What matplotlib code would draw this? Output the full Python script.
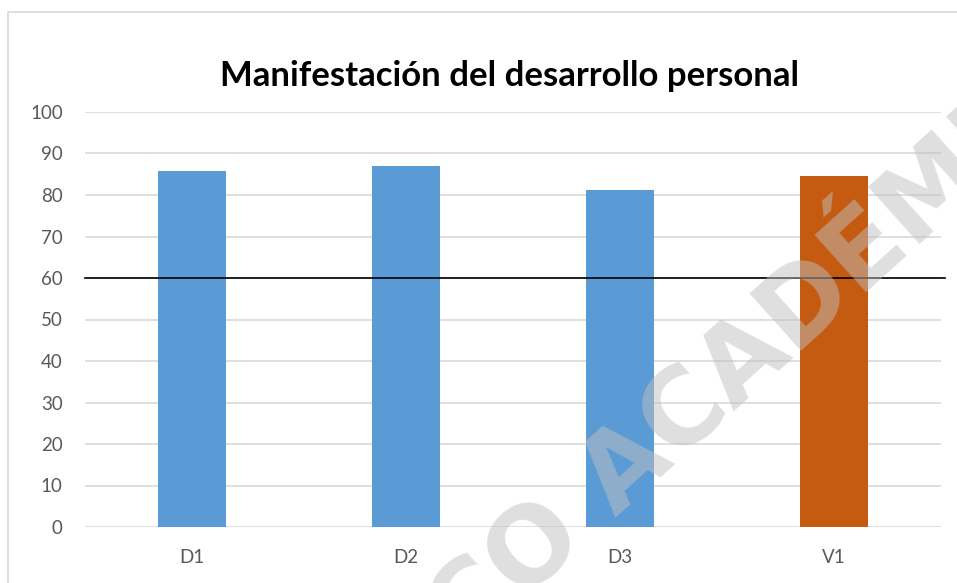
import matplotlib.pyplot as plt
from matplotlib.patches import Rectangle

# data
categories = ["D1", "D2", "D3", "V1"]
values = [85.9, 87.0, 81.1, 84.6]
bar_colors = ["#5B9BD5", "#5B9BD5", "#5B9BD5", "#C55A11"]
yticks = [0, 10, 20, 30, 40, 50, 60, 70, 80, 90, 100]
threshold = 60
title = "Manifestación del desarrollo personal"

W, H = 957, 583
fig = plt.figure(figsize=(W / 100, H / 100), dpi=100)

# chart frame (Excel style border)
fig.patches.append(Rectangle((8 / W, -0.1), 1.2, (583 - 12) / H + 0.1,
                             transform=fig.transFigure, fill=False,
                             edgecolor="#D9D9D9", linewidth=1.2))

ax = fig.add_axes([85 / W, (H - 527) / H, (941 - 85) / W, (527 - 112) / H])
x = range(len(categories))
ax.bar(x, values, width=0.32, color=bar_colors, zorder=2)
ax.plot([-0.5, 3.52], [threshold, threshold], color="black", lw=1.2,
        zorder=3, clip_on=False)

ax.set_xlim(-0.5, 3.5)
ax.set_ylim(0, 100)
ax.set_yticks(yticks)
ax.set_xticks(list(x))
ax.set_xticklabels(categories)
ax.grid(axis="y", color="#D9D9D9", lw=1.2, zorder=0)
for s in ax.spines.values():
    s.set_visible(False)
ax.tick_params(length=0, labelsize=13.5, labelcolor="#595959")
ax.tick_params(axis="y", pad=16)
ax.tick_params(axis="x", pad=16)
for lab in ax.get_xticklabels() + ax.get_yticklabels():
    lab.set_fontfamily("Lato")

fig.text(510 / W, (H - 76) / H, title, ha="center", va="center",
         fontsize=25, fontweight="bold", family="Lato", color="black")

# diagonal watermark
fig.text(445 / W, -0.085, "CO ACADÉMICO", rotation=42, rotation_mode="anchor",
         ha="left", va="center", fontsize=76, fontweight="bold",
         family="DejaVu Sans", color="#C0C0C0", alpha=0.5, zorder=10)

fig.savefig("out.png", dpi=100)
